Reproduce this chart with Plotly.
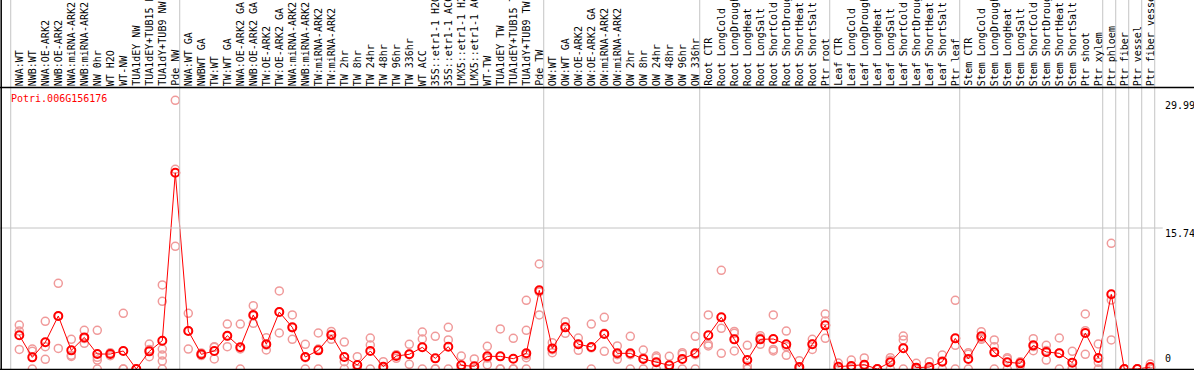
import plotly.graph_objects as go

gene = "Potri.006G156176"

labels = [
    "NWA:WT", "NWB:WT", "NWA:OE-ARK2", "NWB:OE-ARK2", "NWA:miRNA-ARK2", "NWB:miRNA-ARK2",
    "NW 0hr", "WT H2O", "WT-NW", "TUA1dEY NW", "TUA1dEY+TUB15 NW", "TUA1dY+TUB9 NW", "Pde NW",
    "NWA:WT GA", "NWBWT GA", "TW:WT", "TW:WT GA", "NWA:OE-ARK2 GA", "NWB:OE-ARK2 GA",
    "TW:OE-ARK2", "TW:OE-ARK2 GA", "NWA:miRNA-ARK2", "NWB:miRNA-ARK2", "TW:miRNA-ARK2",
    "TW:miRNA-ARK2", "TW 2hr", "TW 8hr", "TW 24hr", "TW 48hr", "TW 96hr", "TW 336hr",
    "WT ACC", "35S::etr1-1 H2O", "35S::etr1-1 ACC", "LMX5::etr1-1 H2O", "LMX5::etr1-1 ACC",
    "WT-TW", "TUA1dEY TW", "TUA1dEY+TUB15 TW", "TUA1dY+TUB9 TW", "Pde TW",
    "OW:WT", "OW:WT GA", "OW:OE-ARK2", "OW:OE-ARK2 GA", "OW:miRNA-ARK2", "OW:miRNA-ARK2",
    "OW 2hr", "OW 8hr", "OW 24hr", "OW 48hr", "OW 96hr", "OW 336hr",
    "Root CTR", "Root LongCold", "Root LongDrought", "Root LongHeat", "Root LongSalt",
    "Root ShortCold", "Root ShortDrought", "Root ShortHeat", "Root ShortSalt", "Ptr root",
    "Leaf CTR", "Leaf LongCold", "Leaf LongDrought", "Leaf LongHeat", "Leaf LongSalt",
    "Leaf ShortCold", "Leaf ShortDrought", "Leaf ShortHeat", "Leaf ShortSalt", "Ptr leaf",
    "Stem CTR", "Stem LongCold", "Stem LongDrought", "Stem LongHeat", "Stem LongSalt",
    "Stem ShortCold", "Stem ShortDrought", "Stem ShortHeat", "Stem ShortSalt", "Ptr shoot",
    "Ptr xylem", "Ptr phloem", "Ptr fiber", "Ptr vessel", "Ptr fiber vessel",
]

# sizes of the column groups (separated by grey vertical lines)
group_sizes = [13, 28, 12, 10, 10, 11, 1, 1, 1, 1]

means = [
    3.76, 1.30, 2.98, 5.92, 2.08, 3.53, 1.67, 1.67, 2.01, 0.0, 1.97, 3.16, 21.9,
    4.24, 1.64, 2.01, 3.72, 2.42, 6.03, 2.76, 6.36, 4.65, 1.34, 2.08, 3.80, 1.34,
    0.45, 2.01, 0.26, 1.45, 1.64, 2.42, 1.19, 2.49, 0.41, 0.30, 1.41, 1.41, 1.15,
    1.75, 8.78,
    2.30, 4.65, 2.76, 2.46, 3.91, 1.75, 1.75, 1.12, 0.75, 0.41, 1.12, 1.75,
    3.76, 5.77, 3.31, 1.00, 3.31, 3.35, 2.76, 0.22, 2.76, 4.87,
    0.26, 0.33, 0.48, 0.0, 0.75, 2.31, 0.15, 0.22, 0.82, 3.42,
    1.12, 3.65, 1.86, 0.75, 0.63, 2.64, 1.90, 1.75, 0.71, 4.02, 1.23,
    8.34, 0.0, 0.0, 0.22,
]

replicates = [
    [4.91, 4.24, 2.19], [2.23, 1.97, 0], [5.32, 2.49, 1.08], [9.56, 5.90, 2.30],
    [3.31, 1.53, 1.40], [4.32, 3.40, 2.87], [4.32, 1.30, 1.00, 0], [1.82, 1.70, 1.49],
    [6.21, 0, 0], [0, 0, 0], [2.79, 2.19, 1.37], [9.38, 7.56, 2.23, 1.56, 0.89, 0],
    [29.99, 22.3, 13.7],
    [6.21, 4.28, 2.23], [1.80, 1.60, 1.50], [2.49, 2.42, 1.12], [5.02, 3.65, 2.49],
    [5.02, 2.24, 0], [7.07, 5.92, 5.10], [3.49, 2.67, 2.12], [8.71, 6.35, 4.02],
    [6.03, 4.61, 3.31], [2.76, 1.26, 0], [4.02, 2.22, 0], [4.20, 3.89, 3.31],
    [3.01, 0.82, 0], [1.37, 0, 0], [3.46, 2.68, 0], [0.82, 0, 0], [1.60, 1.56, 1.19],
    [2.76, 1.64, 0.52], [4.13, 3.35, 0], [3.65, 0, 0], [4.65, 3.24, 0], [1.45, 0, 0],
    [1.12, 0, 0], [2.53, 1.22, 0.48], [4.47, 0, 0], [3.42, 0, 0],
    [7.67, 4.32, 1.56, 1.26, 0], [11.72, 8.60, 6.03],
    [2.94, 2.15, 1.82], [5.28, 4.69, 3.98], [3.46, 2.74, 2.08], [5.02, 2.36, 0],
    [5.77, 3.99, 1.97], [2.57, 1.60, 1.08], [3.65, 1.60, 0], [2.12, 1.24, 0],
    [1.45, 1.26, 0], [1.41, 0, 0], [1.82, 1.64, 0], [3.65, 1.60, 0],
    [6.03, 2.76, 2.57], [11.02, 4.54, 1.75], [4.20, 3.98, 2.01], [2.64, 0.33, 0],
    [3.72, 3.46, 2.76], [6.03, 2.19, 2.01], [4.24, 2.50, 1.53], [0.93, 0, 0],
    [3.31, 2.78, 2.19], [6.14, 5.36, 3.42],
    [0.67, 0, 0], [1.00, 0, 0], [1.23, 0.37, 0], [0, 0, 0], [1.26, 0.99, 0],
    [3.68, 3.24, 0], [0.63, 0, 0], [0.82, 0, 0], [1.56, 0.90, 0], [7.67, 2.64, 0],
    [1.82, 1.64, 0], [4.17, 3.47, 3.31], [3.24, 2.49, 0], [1.26, 1.12, 0],
    [0.82, 0.70, 0.37], [3.38, 2.50, 2.04], [2.64, 2.06, 1.00], [3.46, 1.79, 0],
    [1.97, 0.10, 0], [6.14, 4.28, 1.64], [2.79, 0.74, 0],
    [14.03, 7.70, 3.24], [0, 0, 0], [0, 0, 0], [0.55, 0.10, 0],
]

scale_labels = ["29.99", "15.74", "0"]
scale_values = [29.99, 15.74, 0]

# ---- geometry ----
W, H = 1194, 370
TOP, BOT = 88, 1
COLW = 13.0
FIRST_X = 19.3
xr0 = -FIRST_X / COLW
xr1 = xr0 + W / COLW
plot_h = H - TOP - BOT
yr1 = plot_h / 8.958

def xpaper(v):
    return (v - xr0) / (xr1 - xr0)

FONT = "DejaVu Sans Mono"
GREY = "#c4c4c4"

xs = list(range(len(labels)))
rx, ry = [], []
for i, reps in enumerate(replicates):
    for r in reps:
        rx.append(i)
        ry.append(r)

fig = go.Figure()
fig.add_trace(go.Scatter(
    x=rx, y=ry, mode="markers", hoverinfo="skip",
    marker=dict(symbol="circle-open", size=8, color="#f09a9a", line=dict(width=1.5, color="#f09a9a")),
    showlegend=False,
))
fig.add_trace(go.Scatter(
    x=xs, y=means, mode="lines+markers",
    line=dict(color="#ff0000", width=1),
    marker=dict(symbol="circle-open", size=8, color="#ff0000", line=dict(width=2, color="#ff0000")),
    showlegend=False,
))

shapes = []
# group separators (column boundaries)
bounds = [0]
for g in group_sizes:
    bounds.append(bounds[-1] + g)
for b in bounds:
    xp = xpaper(b - 0.66)
    shapes.append(dict(type="line", xref="paper", yref="paper", x0=xp, x1=xp,
                       y0=-BOT / plot_h, y1=1 + TOP / plot_h, line=dict(color=GREY, width=1)))
# mid-scale grid line
shapes.append(dict(type="line", xref="paper", yref="y", x0=0, x1=xpaper(bounds[-1] - 0.66) + 8 / W,
                   y0=scale_values[1], y1=scale_values[1], line=dict(color=GREY, width=1)))
# frame lines
shapes.append(dict(type="line", xref="paper", yref="paper", x0=0, x1=1, y0=1.002, y1=1.002,
                   line=dict(color="black", width=1.5)))
shapes.append(dict(type="line", xref="paper", yref="paper", x0=0, x1=1, y0=-0.002, y1=-0.002,
                   line=dict(color="black", width=1.5)))
shapes.append(dict(type="line", xref="paper", yref="paper", x0=1.2 / W, x1=1.2 / W,
                   y0=-BOT / plot_h, y1=1 + TOP / plot_h, line=dict(color="black", width=1.5)))

annotations = []
for i, lab in enumerate(labels):
    annotations.append(dict(
        x=i, xref="x", y=1, yref="paper", text=lab, showarrow=False,
        textangle=-90, xanchor="center", yanchor="bottom", yshift=0,
        font=dict(family=FONT, size=10, color="black"),
    ))
annotations.append(dict(
    x=9 / W, xref="paper", y=1, yref="paper", text=gene, showarrow=False,
    xanchor="left", yanchor="top", yshift=-3,
    font=dict(family=FONT, size=10, color="#ff0000"),
))
for lab, v in zip(scale_labels, scale_values):
    annotations.append(dict(
        x=1163 / W, xref="paper", y=v, yref="y", text=lab, showarrow=False,
        xanchor="left", yanchor="top" if v > 0 else "bottom", yshift=2 if v > 0 else 3,
        font=dict(family=FONT, size=10, color="black"),
    ))

fig.update_layout(
    width=W, height=H,
    margin=dict(l=0, r=0, t=TOP, b=BOT, pad=0),
    paper_bgcolor="white", plot_bgcolor="white",
    xaxis=dict(range=[xr0, xr1], visible=False, showgrid=False, zeroline=False, fixedrange=True),
    yaxis=dict(range=[0, yr1], visible=False, showgrid=False, zeroline=False, fixedrange=True),
    shapes=shapes, annotations=annotations,
    showlegend=False,
)

fig.write_html(
    "out.html",
    config={"displayModeBar": False},
    post_script="document.body.style.margin='0';document.body.style.overflow='hidden';",
)
